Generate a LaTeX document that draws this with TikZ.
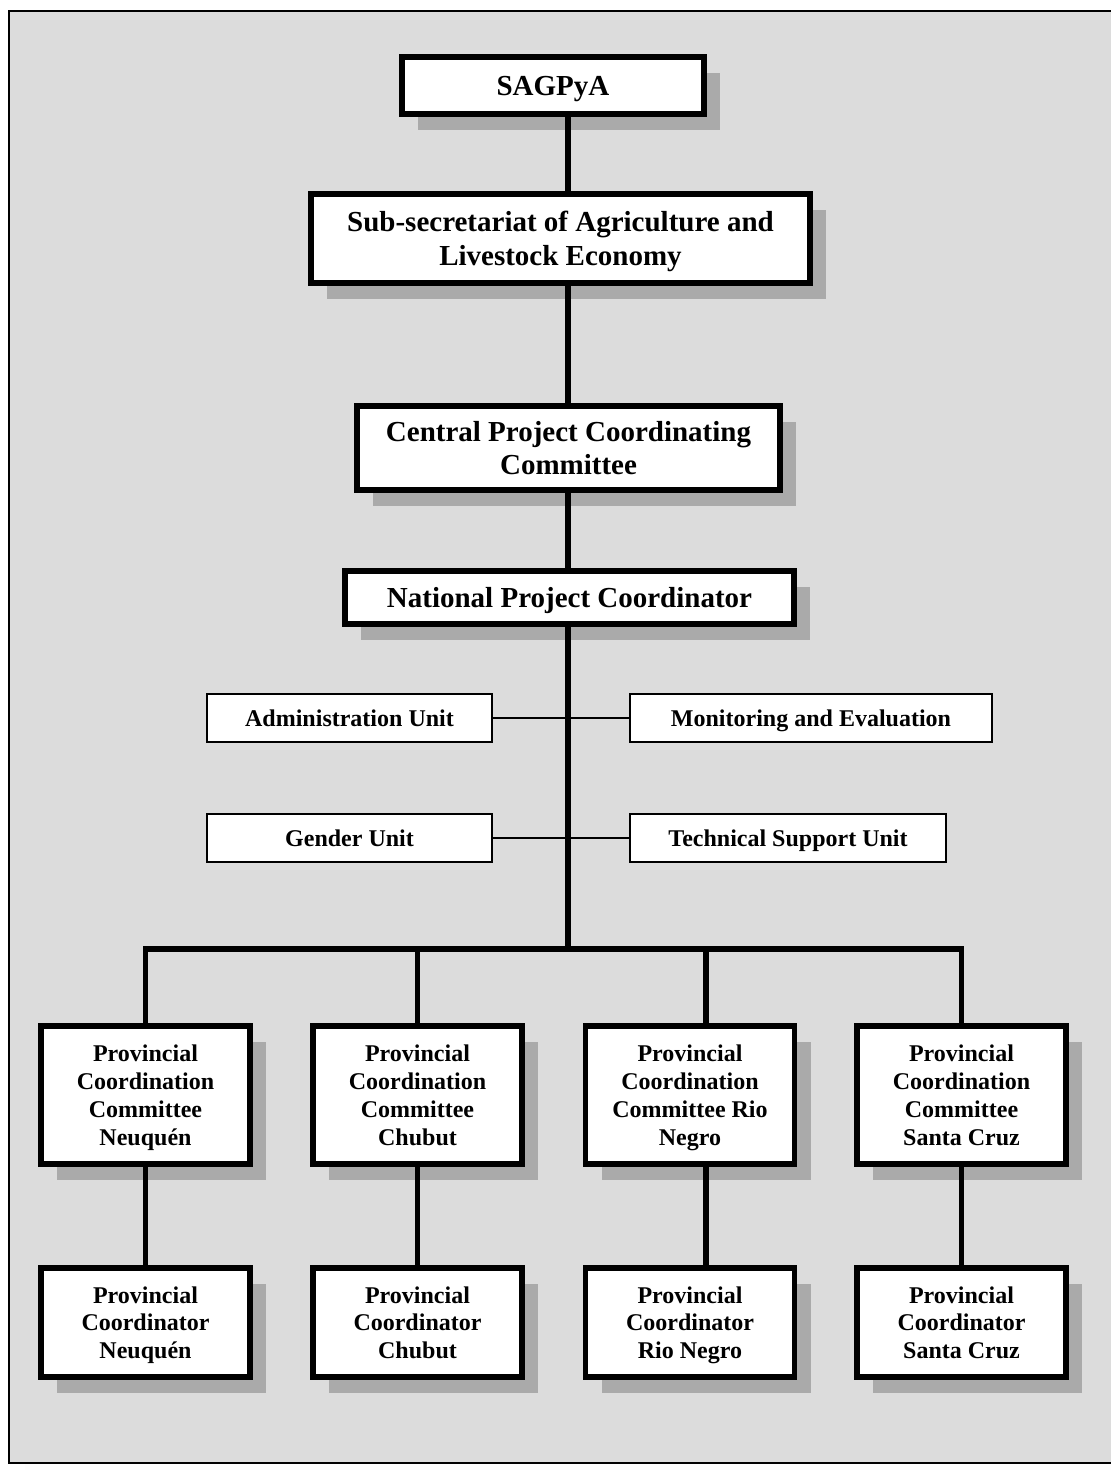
\documentclass[tikz,border=0pt]{standalone}
\usepackage{fontspec}
\setmainfont{Liberation Serif}
\usetikzlibrary{shadows,calc}
\definecolor{panel}{RGB}{220,220,220}
\definecolor{shade}{RGB}{170,170,170}

\begin{document}
\begin{tikzpicture}[x=0.5pt, y=-0.5pt,
	thickbox/.style = {draw, line width=2.9pt, fill=white, align=center, inner sep=0pt, text depth=0pt,
		font=\bfseries\fontsize{14.5}{16.8}\selectfont,
		drop shadow={shadow xshift=8pt, shadow yshift=-8pt, fill=shade, opacity=1}},
	provbox/.style = {thickbox, minimum width=104.5pt, font=\bfseries\fontsize{12}{13.9}\selectfont},
	unitbox/.style = {draw, line width=1pt, fill=white, minimum height=24pt, inner sep=0pt, text depth=0pt,
		font=\bfseries\fontsize{12}{14}\selectfont},
	link/.style = {line width=2.6pt},
	thinlink/.style = {line width=0.7pt}]
	
	\useasboundingbox (0,0) rectangle (1111,1470);
	\clip (0,0) rectangle (1111,1470);
	
	% panel with its shadow
	\fill[shade] (25,27) rectangle (1140,1490);
	\draw[line width=1pt, fill=panel] (9,11) rectangle (1130,1463);
	
	\node[thickbox, minimum width=151pt, minimum height=28.5pt, text depth=-1pt] (sagpya) at (553,85.5) {SAGPyA};
	\node[thickbox, minimum width=249.5pt, minimum height=44.5pt, text depth=-1pt] (subsec) at (560.5,238.5) {Sub-secretariat of Agriculture and\\Livestock Economy};
	\node[thickbox, minimum width=211.5pt, minimum height=42pt, text depth=-4pt] (cpcc) at (568.5,448) {Central Project Coordinating\\Committee};
	\node[thickbox, minimum width=224.5pt, minimum height=26.5pt, text depth=-4pt] (npc) at (569.5,597.5) {National Project Coordinator};
	
	\node[unitbox, minimum width=142.5pt] (admin) at (349.5,718) {Administration Unit};
	\node[unitbox, minimum width=181pt] (monit) at (811,718) {Monitoring and Evaluation};
	\node[unitbox, minimum width=142.5pt] (gender) at (349.5,838) {Gender Unit};
	\node[unitbox, minimum width=158pt] (tech) at (788,838) {Technical Support Unit};
	
	\node[provbox, minimum height=69pt] (pccN) at (145.5,1095) {Provincial\\Coordination\\Committee\\Neuquén};
	\node[provbox, minimum height=69pt] (pccC) at (417.5,1095) {Provincial\\Coordination\\Committee\\Chubut};
	\node[provbox, minimum height=69pt] (pccR) at (690,1095) {Provincial\\Coordination\\Committee Rio\\Negro};
	\node[provbox, minimum height=69pt] (pccS) at (961.5,1095) {Provincial\\Coordination\\Committee\\Santa Cruz};
	
	\node[provbox, minimum height=54.5pt] (pcN) at (145.5,1322.5) {Provincial\\Coordinator\\Neuquén};
	\node[provbox, minimum height=54.5pt] (pcC) at (417.5,1322.5) {Provincial\\Coordinator\\Chubut};
	\node[provbox, minimum height=54.5pt] (pcR) at (690,1322.5) {Provincial\\Coordinator\\Rio Negro};
	\node[provbox, minimum height=54.5pt] (pcS) at (961.5,1322.5) {Provincial\\Coordinator\\Santa Cruz};
	
	% connectors
	\coordinate (trunk) at (568,0);
	\coordinate (bar) at (568,949);
	\draw[link] (sagpya.south -| trunk) -- (subsec.north -| trunk);
	\draw[link] (subsec.south -| trunk) -- (cpcc.north -| trunk);
	\draw[link] (cpcc.south -| trunk) -- (npc.north -| trunk);
	\draw[link] (npc.south -| trunk) -- (bar);
	\draw[thinlink] (admin.east) -- (admin.east -| trunk) -- (monit.west);
	\draw[thinlink] (gender.east) -- (gender.east -| trunk) -- (tech.west);
	\draw[link] (pccN.north) |- (bar) -| (pccS.north);
	\draw[link] (pccC.north) -- (pccC.north |- bar);
	\draw[link] ([xshift=8pt]pccR.north) -- ([xshift=8pt]pccR.north |- bar);
	\foreach \p in {N,C,S}
		\draw[link] (pcc\p.south) -- (pc\p.north);
	\draw[link] ([xshift=8pt]pccR.south) -- ([xshift=8pt]pcR.north);
\end{tikzpicture}
\end{document}
